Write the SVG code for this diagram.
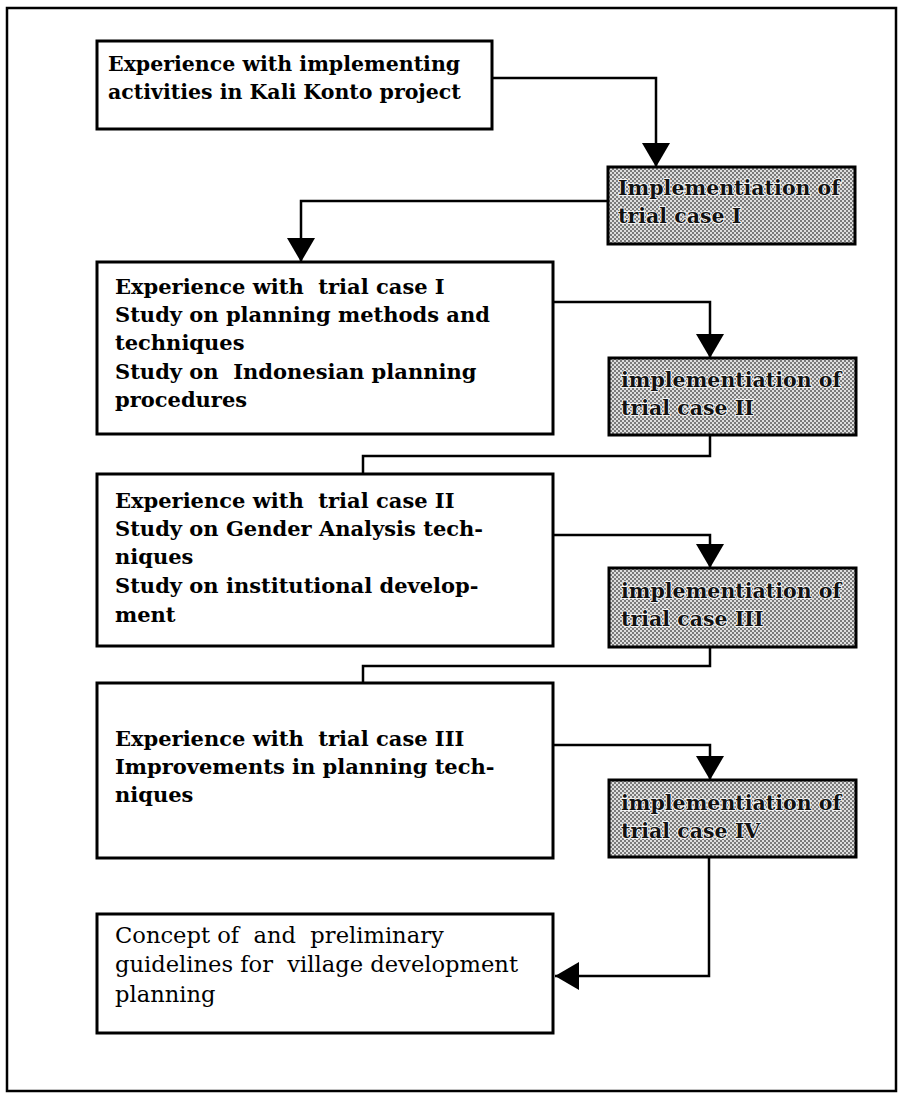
<svg xmlns="http://www.w3.org/2000/svg" width="900" height="1094" viewBox="0 0 900 1094">
  <style>
    .frame { fill: none; stroke: #000; stroke-width: 2.5; }
    .box { fill: #fff; stroke: #000; stroke-width: 3; }
    .shade { fill: url(#dither); stroke: #000; stroke-width: 3; }
    .conn { fill: none; stroke: #000; stroke-width: 2.5; }
    .txt { font-family: "DejaVu Serif", "Liberation Serif", serif; font-size: 21px; font-weight: bold; fill: #000; white-space: pre; }
    .txt.top { font-size: 20.5px; }
    .itxt { font-family: "DejaVu Serif", "Liberation Serif", serif; font-size: 20.5px; font-weight: bold; fill: #111; stroke: #fff; stroke-width: 1.6; paint-order: stroke; white-space: pre; }
    .ftxt { font-family: "DejaVu Serif", "Liberation Serif", serif; font-size: 22.6px; fill: #000; white-space: pre; }
  </style>
  <defs>
    <pattern id="dither" width="4" height="4" patternUnits="userSpaceOnUse">
      <rect width="4" height="4" fill="#dedede"/>
      <rect width="2" height="2" fill="#7a7a7a"/>
      <rect x="2" y="2" width="2" height="2" fill="#7a7a7a"/>
    </pattern>
    <marker id="arrow" viewBox="0 0 24 28" refX="24" refY="14" markerWidth="24" markerHeight="28" markerUnits="userSpaceOnUse" orient="auto">
      <path d="M0,0 L24,14 L0,28 Z" fill="#000"/>
    </marker>
  </defs>

  <rect class="frame" x="7" y="8" width="889" height="1083"/>

  <g id="connectors">
    <path class="conn" d="M492,78 H656 V167" marker-end="url(#arrow)"/>
    <path class="conn" d="M608,201 H301 V262" marker-end="url(#arrow)"/>
    <path class="conn" d="M553,302 H710 V358" marker-end="url(#arrow)"/>
    <path class="conn" d="M710,435 V456 H363 V474"/>
    <path class="conn" d="M553,535 H710 V568" marker-end="url(#arrow)"/>
    <path class="conn" d="M710,647 V666 H363 V683"/>
    <path class="conn" d="M553,745 H710 V780" marker-end="url(#arrow)"/>
    <path class="conn" d="M709,857 V976 H555" marker-end="url(#arrow)"/>
  </g>

  <g id="kali-konto">
    <rect class="box" x="97" y="41" width="395" height="88"/>
    <text class="txt top" x="108" y="71">Experience with implementing</text>
    <text class="txt top" x="108" y="99">activities in Kali Konto project</text>
  </g>

  <g id="impl-1">
    <rect class="shade" x="608" y="167" width="247" height="77"/>
    <text class="itxt" x="618" y="195">Implementiation of</text>
    <text class="itxt" x="618" y="223">trial case I</text>
  </g>

  <g id="experience-1">
    <rect class="box" x="97" y="262" width="456" height="172"/>
    <text class="txt" x="115" y="294">Experience with  trial case I</text>
    <text class="txt" x="115" y="322">Study on planning methods and</text>
    <text class="txt" x="115" y="350">techniques</text>
    <text class="txt" x="115" y="379">Study on  Indonesian planning</text>
    <text class="txt" x="115" y="407">procedures</text>
  </g>

  <g id="impl-2">
    <rect class="shade" x="609" y="358" width="247" height="77"/>
    <text class="itxt" x="621" y="387">implementiation of</text>
    <text class="itxt" x="621" y="415">trial case II</text>
  </g>

  <g id="experience-2">
    <rect class="box" x="97" y="474" width="456" height="172"/>
    <text class="txt" x="115" y="508">Experience with  trial case II</text>
    <text class="txt" x="115" y="536">Study on Gender Analysis tech-</text>
    <text class="txt" x="115" y="564">niques</text>
    <text class="txt" x="115" y="593">Study on institutional develop-</text>
    <text class="txt" x="115" y="622">ment</text>
  </g>

  <g id="impl-3">
    <rect class="shade" x="609" y="568" width="247" height="79"/>
    <text class="itxt" x="621" y="598">implementiation of</text>
    <text class="itxt" x="621" y="626">trial case III</text>
  </g>

  <g id="experience-3">
    <rect class="box" x="97" y="683" width="456" height="175"/>
    <text class="txt" x="115" y="746">Experience with  trial case III</text>
    <text class="txt" x="115" y="774">Improvements in planning tech-</text>
    <text class="txt" x="115" y="802">niques</text>
  </g>

  <g id="impl-4">
    <rect class="shade" x="609" y="780" width="247" height="77"/>
    <text class="itxt" x="621" y="810">implementiation of</text>
    <text class="itxt" x="621" y="838">trial case IV</text>
  </g>

  <g id="guidelines">
    <rect class="box" x="97" y="914" width="456" height="119"/>
    <text class="ftxt" x="115" y="943">Concept of  and  preliminary</text>
    <text class="ftxt" x="115" y="972">guidelines for  village development</text>
    <text class="ftxt" x="115" y="1002">planning</text>
  </g>
</svg>
